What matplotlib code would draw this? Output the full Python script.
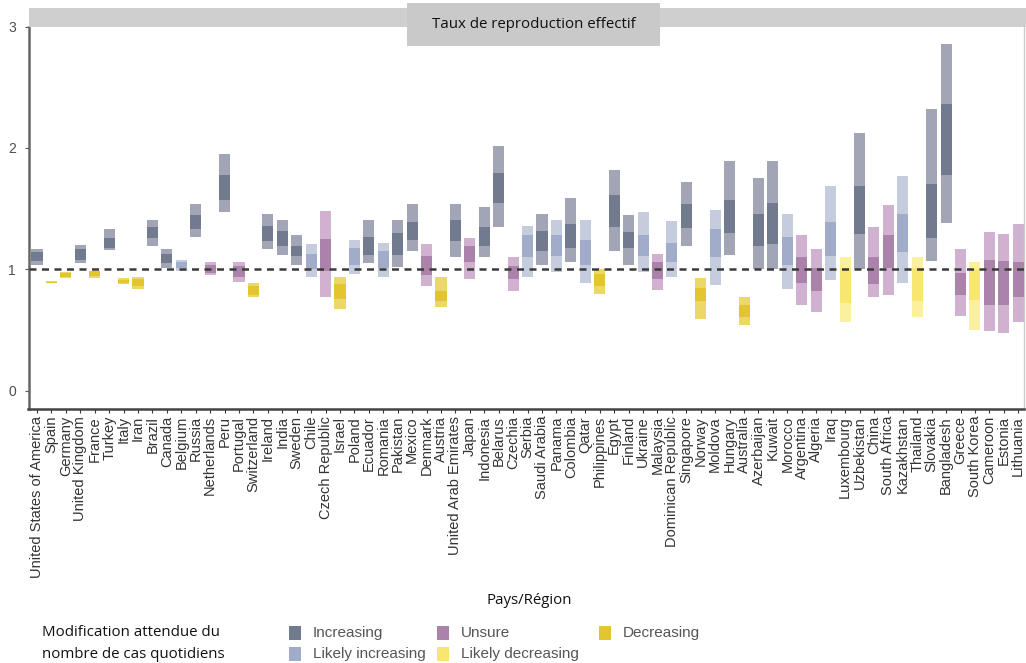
import matplotlib
matplotlib.use("Agg")
import matplotlib.pyplot as plt
from matplotlib.patches import Rectangle
import numpy as np

countries = ["United States of America", "Spain", "Germany", "United Kingdom", "France", "Turkey",
             "Italy", "Iran", "Brazil", "Canada", "Belgium", "Russia", "Netherlands", "Peru",
             "Portugal", "Switzerland", "Ireland", "India", "Sweden", "Chile", "Czech Republic",
             "Israel", "Poland", "Ecuador", "Romania", "Pakistan", "Mexico", "Denmark", "Austria",
             "United Arab Emirates", "Japan", "Indonesia", "Belarus", "Czechia", "Serbia",
             "Saudi Arabia", "Panama", "Colombia", "Qatar", "Philippines", "Egypt", "Finland",
             "Ukraine", "Malaysia", "Dominican Republic", "Singapore", "Norway", "Moldova",
             "Hungary", "Australia", "Azerbaijan", "Kuwait", "Morocco", "Argentina", "Algeria",
             "Iraq", "Luxembourg", "Uzbekistan", "China", "South Africa", "Kazakhstan", "Thailand",
             "Slovakia", "Bangladesh", "Greece", "South Korea", "Cameroon", "Estonia", "Lithuania"]

status = ["I", "D", "D", "I", "D", "I", "D", "D", "I", "I", "LI", "I", "U", "I",
          "U", "D", "I", "I", "I", "LI", "U", "D", "LI", "I", "LI", "I", "I", "U", "D",
          "I", "U", "I", "I", "U", "LI", "I", "LI", "I", "LI", "D", "I", "I",
          "LI", "U", "LI", "I", "D", "LI", "I", "D", "I", "I", "LI", "U", "U",
          "LI", "LD", "I", "U", "U", "LI", "LD", "I", "I", "U", "LD", "U", "U", "U"]

lo90 = [1.04, 0.885, 0.925, 1.055, 0.93, 1.16, 0.88, 0.84, 1.19, 1.01, 0.99, 1.27, 0.95, 1.47,
        0.90, 0.77, 1.17, 1.12, 1.04, 0.94, 0.77, 0.67, 0.96, 1.05, 0.94, 1.02, 1.15, 0.86, 0.69,
        1.10, 0.92, 1.10, 1.35, 0.82, 0.94, 1.04, 0.98, 1.06, 0.89, 0.80, 1.15, 1.04,
        0.98, 0.83, 0.94, 1.19, 0.59, 0.87, 1.12, 0.54, 1.00, 1.00, 0.84, 0.71, 0.65,
        0.91, 0.57, 1.00, 0.77, 0.79, 0.89, 0.61, 1.07, 1.38, 0.62, 0.50, 0.49, 0.48, 0.57]
hi90 = [1.17, 0.905, 0.98, 1.20, 0.99, 1.33, 0.93, 0.94, 1.41, 1.17, 1.08, 1.54, 1.06, 1.95,
        1.06, 0.89, 1.46, 1.41, 1.28, 1.21, 1.48, 0.94, 1.24, 1.41, 1.22, 1.41, 1.54, 1.21, 0.94,
        1.54, 1.26, 1.51, 2.02, 1.10, 1.36, 1.46, 1.41, 1.59, 1.41, 1.00, 1.82, 1.45,
        1.47, 1.13, 1.40, 1.72, 0.93, 1.49, 1.89, 0.77, 1.75, 1.89, 1.46, 1.28, 1.17,
        1.69, 1.10, 2.12, 1.35, 1.53, 1.77, 1.10, 2.32, 2.86, 1.17, 1.06, 1.31, 1.29, 1.37]
lo50 = [1.07, 0.89, 0.94, 1.08, 0.945, 1.18, 0.89, 0.86, 1.26, 1.05, 1.01, 1.33, 0.97, 1.57,
        0.94, 0.79, 1.23, 1.19, 1.11, 1.00, 0.99, 0.76, 1.04, 1.12, 1.01, 1.12, 1.24, 0.95, 0.74,
        1.23, 1.06, 1.19, 1.55, 0.92, 1.10, 1.15, 1.11, 1.18, 1.04, 0.86, 1.35, 1.18,
        1.11, 0.92, 1.06, 1.34, 0.74, 1.10, 1.30, 0.61, 1.19, 1.21, 1.04, 0.89, 0.82,
        1.11, 0.72, 1.29, 0.88, 1.01, 1.14, 0.74, 1.26, 1.78, 0.79, 0.75, 0.71, 0.71, 0.77]
hi50 = [1.14, 0.90, 0.97, 1.17, 0.985, 1.26, 0.915, 0.92, 1.35, 1.13, 1.06, 1.45, 1.04, 1.78,
        1.03, 0.86, 1.36, 1.32, 1.19, 1.13, 1.25, 0.88, 1.18, 1.27, 1.15, 1.30, 1.39, 1.11, 0.82,
        1.41, 1.19, 1.35, 1.79, 1.03, 1.28, 1.32, 1.28, 1.37, 1.24, 0.96, 1.61, 1.31,
        1.28, 1.06, 1.22, 1.54, 0.85, 1.33, 1.57, 0.71, 1.46, 1.55, 1.27, 1.10, 1.01,
        1.39, 1.01, 1.69, 1.10, 1.28, 1.46, 1.01, 1.70, 2.36, 0.97, 1.00, 1.08, 1.07, 1.06]

y_ticks = [0, 1, 2, 3]
legend_order = ["I", "LI", "U", "LD", "D"]
legend_labels = {"I": "Increasing", "LI": "Likely increasing", "U": "Unsure",
                 "LD": "Likely decreasing", "D": "Decreasing"}

outer_col = {"I": "#a1a5b5", "LI": "#c4ccdd", "U": "#d0b2d0", "LD": "#faf09e", "D": "#ecd866"}
inner_col = {"I": "#727a90", "LI": "#a0acca", "U": "#ab83aa", "LD": "#f7e670", "D": "#e2c52f"}

W, H = 1026, 663
fig = plt.figure(figsize=(W / 100, H / 100), dpi=100)
ax = fig.add_axes([28.5 / W, 1 - 409 / H, (1024 - 28.5) / W, (409 - 26.5) / H])

x = np.arange(len(countries))
oc = [outer_col[s] for s in status]
ic = [inner_col[s] for s in status]
h90 = np.array(hi90) - np.array(lo90)
h50 = np.array(hi50) - np.array(lo50)
ax.bar(x, h90, bottom=lo90, width=0.77, color=oc, linewidth=0, zorder=2)
ax.bar(x, h50, bottom=lo50, width=0.77, color=ic, linewidth=0, zorder=3)
ax.axhline(1, color="#3a3a3a", lw=1.8, linestyle=(0, (2.8, 2.2)), zorder=4)

ax.set_xlim(-0.59, 68.4)
ax.set_ylim(-0.15, 3.0)
ax.set_yticks(y_ticks)
ax.set_yticklabels([str(v) for v in y_ticks], fontsize=10, color="#4d4d4d",
                   fontfamily="Liberation Sans")
ax.set_xticks(x)
ax.set_xticklabels(countries, rotation=90, fontsize=10.5, color="#333333",
                   fontfamily="Liberation Sans")
ax.tick_params(axis="y", length=3, width=0.8, color="#555555", pad=6)
ax.tick_params(axis="x", length=3, width=0.8, color="#333333", pad=2)
ax.spines["top"].set_visible(False)
ax.spines["right"].set_color("#cccccc")
ax.spines["right"].set_linewidth(1.0)
ax.spines["left"].set_color("#666666")
ax.spines["left"].set_linewidth(1.8)
ax.spines["bottom"].set_color("#444444")
ax.spines["bottom"].set_linewidth(1.8)

# facet strip
fig.patches.append(Rectangle((28.5 / W, 1 - 26.5 / H), 1 - 28.5 / W, 18.5 / H,
                             transform=fig.transFigure, facecolor="#cfcfcf",
                             edgecolor="none", zorder=5))
fig.patches.append(Rectangle((407 / W, 1 - 46 / H), 253 / W, 43 / H,
                             transform=fig.transFigure, facecolor="#c9c9c9",
                             edgecolor="none", zorder=6))
fig.text(533.5 / W, 1 - 25 / H, "Taux de reproduction effectif", ha="center", va="center",
         fontsize=10.8, fontfamily="Open Sans", color="#111111", zorder=7)

fig.text(529 / W, 1 - 601 / H, "Pays/Région", ha="center", va="center",
         fontsize=10.8, fontfamily="Open Sans", color="#111111")
fig.text(42 / W, 1 - 633 / H, "Modification attendue du", ha="left", va="center",
         fontsize=10.8, fontfamily="Open Sans", color="#111111")
fig.text(42 / W, 1 - 654 / H, "nombre de cas quotidiens", ha="left", va="center",
         fontsize=10.8, fontfamily="Open Sans", color="#111111")

leg_pos = {"I": (289, 633), "LI": (289, 654), "U": (437, 633), "LD": (437, 654), "D": (599, 633)}
for key in legend_order:
    px, py = leg_pos[key]
    fig.patches.append(Rectangle((px / W, (H - py - 7) / H), 12 / W, 14 / H,
                                 transform=fig.transFigure, facecolor=inner_col[key],
                                 edgecolor="none"))
    fig.text((px + 24) / W, 1 - py / H, legend_labels[key], ha="left", va="center",
             fontsize=11, fontfamily="Liberation Sans", color="#555555")

fig.savefig("out.png", dpi=100)
